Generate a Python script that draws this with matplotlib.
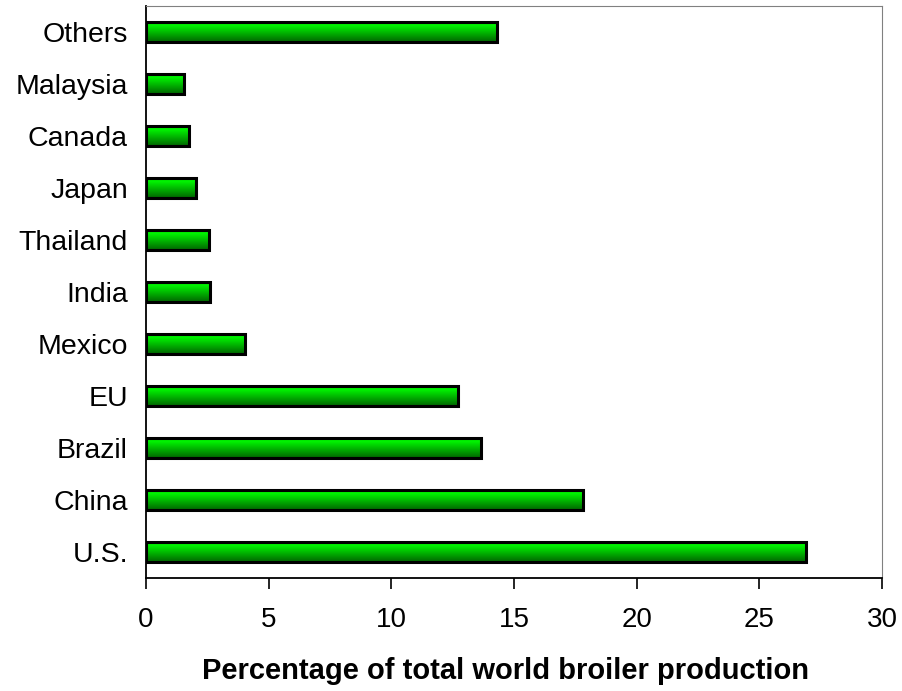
import numpy as np
import matplotlib.pyplot as plt
from matplotlib.colors import LinearSegmentedColormap

plt.rcParams['font.family'] = ['Liberation Sans', 'DejaVu Sans']

# share of world broiler production, bottom to top
paises = ['U.S.', 'China', 'Brazil', 'EU', 'Mexico', 'India',
          'Thailand', 'Japan', 'Canada', 'Malaysia', 'Others']
percentual = [26.9, 17.8, 13.66, 12.73, 4.05, 2.6,
              2.55, 2.04, 1.75, 1.54, 14.3]
ticks_x = [0, 5, 10, 15, 20, 25, 30]

# green shading, light on top, dark at the bottom
verde = LinearSegmentedColormap.from_list(
    'verde', [(0.0, '#006400'), (0.55, '#00c800'), (0.8, '#00f500'), (1.0, '#00dc00')])
grad = np.linspace(0, 1, 256).reshape(-1, 1)

fig = plt.figure(figsize=(9.02, 6.91), dpi=100)
ax = fig.add_axes([0.1619, 0.1635, 0.9778 - 0.1619, 0.9913 - 0.1635])

pos = np.arange(len(paises))
barras = ax.barh(pos, percentual, height=0.4, facecolor='none',
                 edgecolor='black', linewidth=2.2, zorder=3)
for b in barras:
    x0, y0 = b.get_x(), b.get_y()
    w, h = b.get_width(), b.get_height()
    im = ax.imshow(grad, cmap=verde, aspect='auto', origin='lower',
                   extent=[x0, x0 + w, y0, y0 + h], zorder=2)
    im.set_clip_path(b)

ax.set_xlim(0, 30)
ax.set_ylim(-0.5, 10.5)
ax.set_yticks(pos)
ax.set_yticklabels(paises, fontsize=20.5)
ax.set_xticks(ticks_x)
ax.set_xticklabels([str(t) for t in ticks_x], fontsize=20)
ax.tick_params(axis='y', length=0, pad=13)
ax.tick_params(axis='x', length=8, width=1.2, direction='out', pad=13)

ax.spines['left'].set_linewidth(1.3)
ax.spines['bottom'].set_linewidth(1.3)
ax.spines['top'].set_color('#808080')
ax.spines['right'].set_color('#808080')

ax.set_xlabel('Percentage of total world broiler production',
              fontsize=21, fontweight='bold')
ax.xaxis.set_label_coords(0.489, -0.138)

plt.savefig('out.png', dpi=100)
